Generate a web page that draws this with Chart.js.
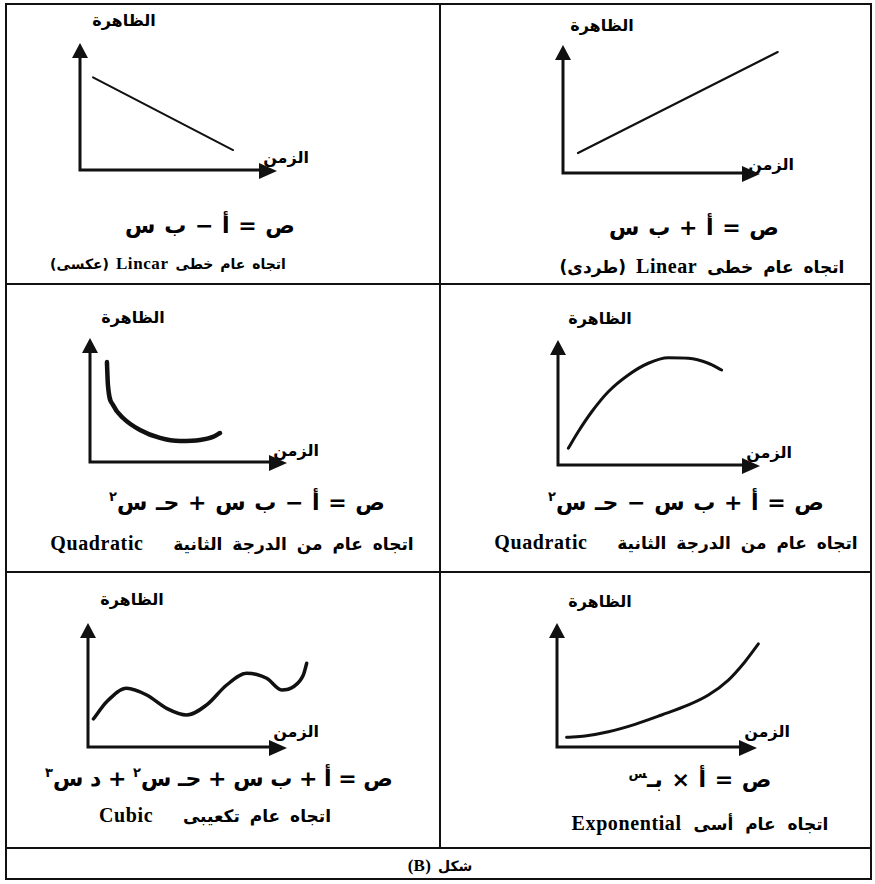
<!DOCTYPE html>
<html lang="ar">
<head>
<meta charset="utf-8">
<title>أنواع الاتجاه العام</title>
<script src="https://cdn.jsdelivr.net/npm/chart.js@4.4.1/dist/chart.umd.min.js"></script>
<style>
    body { margin: 0; background: #fff; }
    #sheet { position: relative; width: 875px; height: 884px; overflow: hidden; font-family: "DejaVu Sans", sans-serif; color: #000; }
    .box { position: absolute; left: 5px; top: 3px; width: 863px; height: 873px; border: 2px solid #111; }
    .rule { position: absolute; background: #111; }
    canvas { position: absolute; }
    .txt { position: absolute; transform: translate(-50%, -50%); white-space: nowrap; direction: rtl; font-weight: bold; }
    .ax { font-size: 16px; }
    .eq { font-size: 22px; word-spacing: 1px; }
    .eq.long { word-spacing: -1px; }
    .eq sup { font-size: 13px; }
    .desc { font-size: 17px; word-spacing: 4px; }
    .desc.wide { word-spacing: 6px; }
    .desc.narrow { font-size: 14px; word-spacing: 2px; }
    .lat { font-family: "Liberation Serif", serif; font-size: 20px; letter-spacing: 0.6px; }
    .narrow .lat { font-size: 17px; }
</style>
</head>
<body>
<div id="sheet">
    <div class="box"></div>
    <div class="rule" style="left:439px; top:3px; width:2px; height:845px;"></div>
    <div class="rule" style="left:5px; top:283px; width:867px; height:2px;"></div>
    <div class="rule" style="left:5px; top:571px; width:867px; height:2px;"></div>
    <div class="rule" style="left:5px; top:847px; width:867px; height:2px;"></div>

    <!-- linear, decreasing -->
    <span class="txt ax" style="left:124px; top:20px;">الظاهرة</span>
    <span class="txt ax" style="left:286px; top:157px;">الزمن</span>
    <span class="txt eq" style="left:210px; top:225px;">ص = أ − ب س</span>
    <span class="txt desc narrow" style="left:168px; top:264px;">اتجاه عام خطى <span class="lat">Lincar</span> (عكسى)</span>

    <!-- linear, increasing -->
    <span class="txt ax" style="left:602px; top:25px;">الظاهرة</span>
    <span class="txt ax" style="left:771px; top:164px;">الزمن</span>
    <span class="txt eq" style="left:694px; top:227px;">ص = أ + ب س</span>
    <span class="txt desc" style="left:702px; top:266px;">اتجاه عام خطى <span class="lat">Linear</span> (طردى)</span>

    <!-- quadratic, opening upward -->
    <span class="txt ax" style="left:133px; top:317px;">الظاهرة</span>
    <span class="txt ax" style="left:296px; top:450px;">الزمن</span>
    <span class="txt eq" style="left:247px; top:502px;">ص = أ − ب س + حـ س<sup>٢</sup></span>
    <span class="txt desc" style="left:232px; top:543px;">اتجاه عام من الدرجة الثانية&nbsp;&nbsp; <span class="lat">Quadratic</span></span>

    <!-- quadratic, opening downward -->
    <span class="txt ax" style="left:600px; top:318px;">الظاهرة</span>
    <span class="txt ax" style="left:769px; top:452px;">الزمن</span>
    <span class="txt eq" style="left:686px; top:502px;">ص = أ + ب س − حـ س<sup>٢</sup></span>
    <span class="txt desc" style="left:676px; top:542px;">اتجاه عام من الدرجة الثانية&nbsp;&nbsp; <span class="lat">Quadratic</span></span>

    <!-- cubic -->
    <span class="txt ax" style="left:132px; top:599px;">الظاهرة</span>
    <span class="txt ax" style="left:296px; top:731px;">الزمن</span>
    <span class="txt eq long" style="left:219px; top:778px;">ص = أ + ب س + حـ س<sup>٢</sup> + د س<sup>٣</sup></span>
    <span class="txt desc" style="left:215px; top:815px;">اتجاه عام تكعيبى&nbsp;&nbsp; <span class="lat">Cubic</span></span>

    <!-- exponential -->
    <span class="txt ax" style="left:600px; top:601px;">الظاهرة</span>
    <span class="txt ax" style="left:767px; top:731px;">الزمن</span>
    <span class="txt eq" style="left:700px; top:779px;">ص = أ × بـ<sup>س</sup></span>
    <span class="txt desc wide" style="left:700px; top:823px;">اتجاه عام أسى <span class="lat">Exponential</span></span>

    <span class="txt desc narrow" style="left:440px; top:866px;">شكل <span class="lat">(B)</span></span>
</div>

<script>
// Curve samples in axis units: 0 at the origin, 10 at each arrow tip.
const linearDownTime = [0.66, 7.77];
const linearDownValues = [7.3, 1.57];

const linearUpTime = [0.76, 10.9];
const linearUpValues = [1.56, 9.45];

const quadUpTime = [0.86, 0.91, 1.17, 1.68, 2.54, 3.55, 4.57, 5.58, 6.24, 6.6];
const quadUpValues = [8.06, 6.21, 4.6, 3.55, 2.58, 1.94, 1.69, 1.77, 2.02, 2.34];

const quadDownTime = [0.51, 1.0, 1.67, 2.49, 3.48, 4.47, 5.46, 6.45, 7.44, 8.1];
const quadDownValues = [1.34, 2.66, 4.26, 5.86, 7.2, 8.14, 8.58, 8.54, 8.14, 7.6];

const cubicTime = [0.27, 0.94, 1.94, 2.95, 3.95, 4.96, 5.96, 6.97, 7.97, 8.98, 9.73, 10.32, 10.82, 10.99];
const cubicValues = [2.26, 3.65, 4.73, 4.19, 3.12, 2.58, 3.39, 5.0, 5.94, 5.54, 4.6, 4.86, 5.81, 6.75];

const expTime = [0.48, 1.4, 2.57, 3.9, 5.23, 6.57, 7.57, 8.57, 9.4, 10.07];
const expValues = [0.78, 0.89, 1.23, 1.83, 2.58, 3.39, 4.19, 5.4, 6.88, 8.31];

// The arrow tips sit at 10 on both axes; the x scale runs a little further
// so curves that overshoot the time arrow are still drawn.
const AXIS_TIP = 10;
const X_MAX = 11.5;
const INK = '#111';

// Where each panel's axes sit on the sheet: origin and arrow tips, in px.
const frames = {
    linearDown: { ox: 80, oy: 170, tx: 277, ty: 43 },
    linearUp: { ox: 563, oy: 173, tx: 760, ty: 45 },
    quadUp: { ox: 90, oy: 462, tx: 287, ty: 338 },
    quadDown: { ox: 558, oy: 465, tx: 760, ty: 340 },
    cubic: { ox: 88, oy: 747, tx: 287, ty: 623 },
    exponential: { ox: 557, oy: 747, tx: 757, ty: 623 },
};

const trendAxes = {
    id: 'trendAxes',
    beforeDatasetsDraw(chart) {
        const { ctx, scales: { x, y } } = chart;
        const left = x.getPixelForValue(0);
        const right = x.getPixelForValue(AXIS_TIP);
        const bottom = y.getPixelForValue(0);
        const top = y.getPixelForValue(AXIS_TIP);
        const head = 15;
        const half = 8;

        ctx.save();
        ctx.strokeStyle = INK;
        ctx.fillStyle = INK;
        ctx.lineWidth = 3;
        ctx.lineCap = 'square';

        ctx.beginPath();
        ctx.moveTo(left, top + head - 1);
        ctx.lineTo(left, bottom);
        ctx.lineTo(right - head + 1, bottom);
        ctx.stroke();

        ctx.beginPath();
        ctx.moveTo(left, top);
        ctx.lineTo(left - half, top + head);
        ctx.lineTo(left + half, top + head);
        ctx.closePath();
        ctx.fill();

        ctx.beginPath();
        ctx.moveTo(right, bottom + 1);
        ctx.lineTo(right - head - 3, bottom - half + 1);
        ctx.lineTo(right - head - 3, bottom + half + 1);
        ctx.closePath();
        ctx.fill();

        ctx.restore();
    },
};

function toPoints(time, values) {
    return time.map((t, i) => ({ x: t, y: values[i] }));
}

function makeCanvas(id) {
    const f = frames[id];
    const pad = { left: 20, top: 12, bottom: 20 };
    const plotWidth = (f.tx - f.ox) * X_MAX / AXIS_TIP;
    const width = Math.ceil(pad.left + plotWidth + 10);
    const height = pad.top + (f.oy - f.ty) + pad.bottom;

    const canvas = document.createElement('canvas');
    canvas.id = id;
    canvas.width = width;
    canvas.height = height;
    canvas.style.left = `${f.ox - pad.left}px`;
    canvas.style.top = `${f.ty - pad.top}px`;
    document.getElementById('sheet').appendChild(canvas);

    return { canvas, padding: { ...pad, right: width - pad.left - plotWidth } };
}

function drawTrend(id, time, values, width, smooth) {
    const { canvas, padding } = makeCanvas(id);

    return new Chart(canvas, {
        type: 'line',
        data: {
            datasets: [{
                data: toPoints(time, values),
                borderColor: INK,
                borderWidth: width,
                borderCapStyle: 'round',
                pointRadius: 0,
                fill: false,
                clip: false,
                cubicInterpolationMode: smooth ? 'monotone' : 'default',
                tension: 0,
            }],
        },
        options: {
            responsive: false,
            animation: false,
            events: [],
            layout: { padding },
            plugins: { legend: { display: false }, tooltip: { enabled: false } },
            scales: {
                x: { type: 'linear', display: false, min: 0, max: X_MAX },
                y: { type: 'linear', display: false, min: 0, max: AXIS_TIP },
            },
        },
        plugins: [trendAxes],
    });
}

drawTrend('linearDown', linearDownTime, linearDownValues, 2, false);
drawTrend('linearUp', linearUpTime, linearUpValues, 2.2, false);
drawTrend('quadUp', quadUpTime, quadUpValues, 4.5, true);
drawTrend('quadDown', quadDownTime, quadDownValues, 3, true);
drawTrend('cubic', cubicTime, cubicValues, 3.5, true);
drawTrend('exponential', expTime, expValues, 3, true);
</script>
</body>
</html>
